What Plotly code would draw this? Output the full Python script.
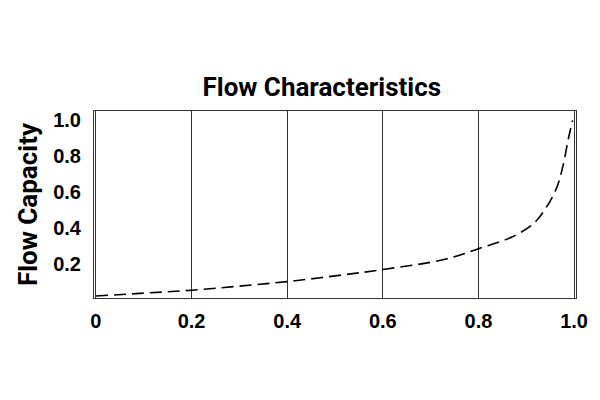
import plotly.graph_objects as go

# valve opening (fraction) vs flow capacity
opening = [0, 0.1, 0.2, 0.3, 0.4, 0.5, 0.6, 0.73, 0.8, 0.87, 0.915, 0.94, 0.963, 0.977, 0.988, 0.997]
capacity = [0.024, 0.04, 0.056, 0.079, 0.104, 0.136, 0.171, 0.228, 0.287, 0.352, 0.426, 0.509, 0.621, 0.75, 0.898, 1.0]

x_ticks = [0, 0.2, 0.4, 0.6, 0.8, 1.0]
x_labels = ["0", "0.2", "0.4", "0.6", "0.8", "1.0"]
y_ticks = [0.2, 0.4, 0.6, 0.8, 1.0]
y_labels = ["0.2", "0.4", "0.6", "0.8", "1.0"]

fig = go.Figure()

fig.add_trace(go.Scatter(
    x=opening,
    y=capacity,
    mode="lines",
    line=dict(color="black", width=1.6, dash="12px,6px", shape="spline"),
    showlegend=False,
    hoverinfo="skip",
))

tick_font = dict(family="Liberation Sans, Arial, sans-serif", size=20, color="black", weight="bold")
head_font = dict(family="Roboto, sans-serif", size=26, color="black", weight="bold")

# page body adds an 8px offset, margins are set to compensate
fig.update_layout(
    width=600,
    height=400,
    paper_bgcolor="white",
    plot_bgcolor="white",
    margin=dict(l=86, r=32, t=103, b=110),
    title=dict(
        text="Flow Characteristics",
        x=0.523,
        xanchor="center",
        y=0.8025,
        yanchor="middle",
        font=head_font,
    ),
)

fig.update_xaxes(
    range=[-0.004, 1.004],
    tickvals=x_ticks,
    ticktext=x_labels,
    tickfont=tick_font,
    showgrid=True,
    gridcolor="#333333",
    gridwidth=1,
    zeroline=False,
    showline=True,
    linecolor="#333333",
    linewidth=1,
    mirror=True,
    ticks="",
    ticklabelstandoff=5,
    automargin=False,
)

fig.update_yaxes(
    range=[0.013, 1.052],
    tickvals=y_ticks,
    ticktext=y_labels,
    tickfont=tick_font,
    showgrid=False,
    zeroline=False,
    showline=True,
    linecolor="#333333",
    linewidth=1,
    mirror=True,
    ticks="",
    ticklabelstandoff=8,
    automargin=False,
    title=dict(
        text="Flow Capacity",
        font=head_font,
        standoff=8,
    ),
)

fig.write_html("out.html")
